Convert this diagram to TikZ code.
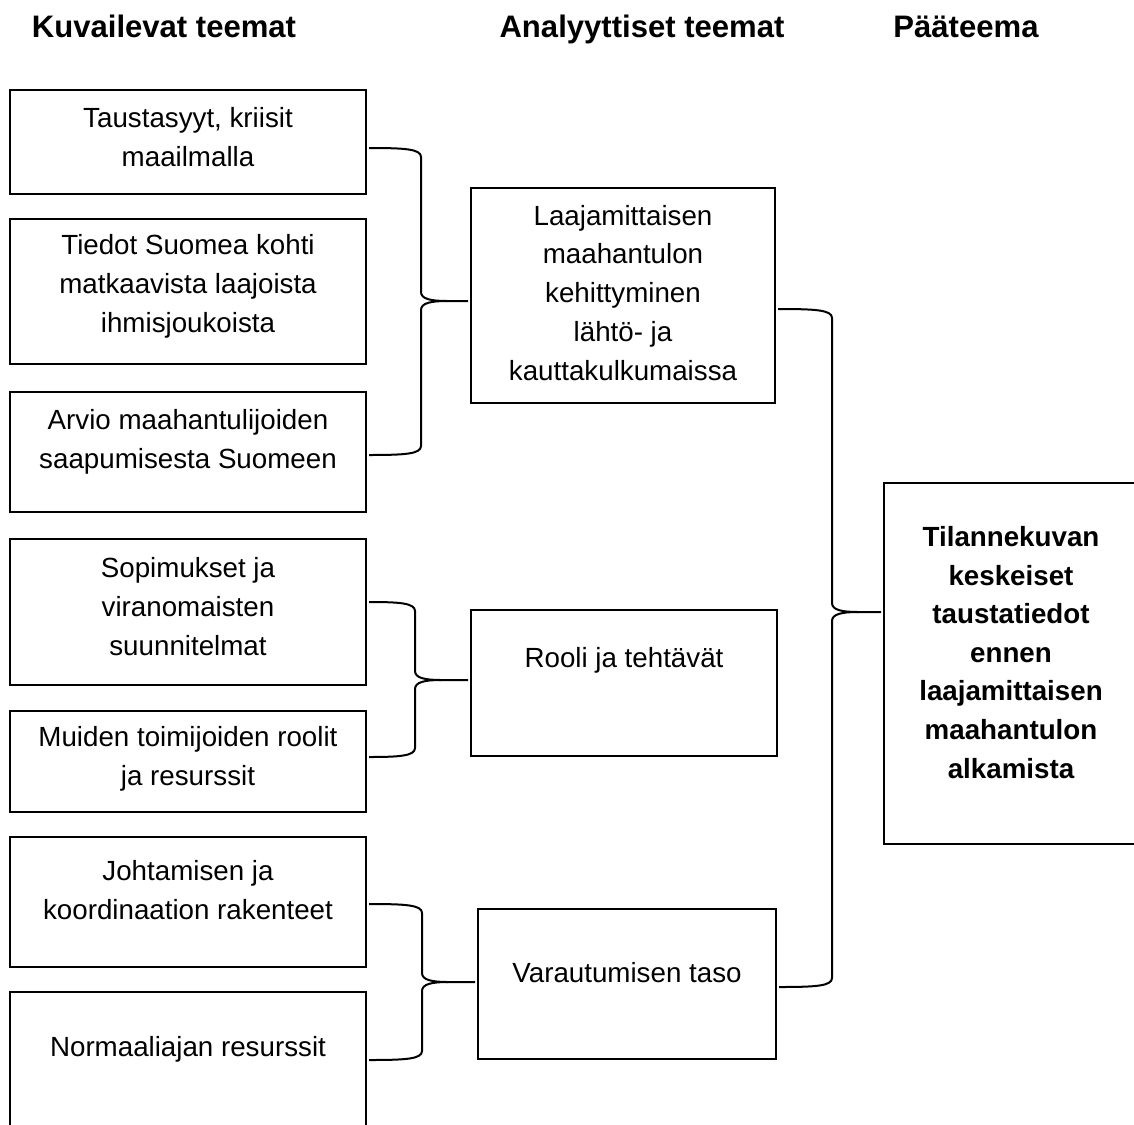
\documentclass[tikz,border=0pt]{standalone}
\usepackage{fontspec}
\setmainfont{Liberation Sans}
\usetikzlibrary{calc}
% #1 upper source, #2 its y, #3 lower source, #4 its y, #5 x of spine, #6 y of tip, #7 target
\newcommand\curlyjoin[7]{%
  \draw[brc] ($(#1.east |- 0,#2)+(3,0)$) .. controls (#5-16,#2) and (#5,#2+1) .. (#5,#2+9)
    -- (#5,#6-9) .. controls (#5,#6-2) and (#5+10,#6) .. (#5+26,#6)
    -- ($(#7.west |- 0,#6)+(-3,0)$);
  \draw[brc] (#5+26,#6) .. controls (#5+10,#6) and (#5,#6+2) .. (#5,#6+9)
    -- (#5,#4-9) .. controls (#5,#4-1) and (#5-16,#4) .. ($(#3.east |- 0,#4)+(3,0)$);
}
\begin{document}
\begin{tikzpicture}[x=0.75pt,y=-0.75pt,
  box/.style={draw=black, line width=1.5pt, rectangle, inner sep=0pt, outer sep=0pt},
  txt/.style={align=center, inner sep=0pt, font=\fontsize{20.8pt}{29.2pt}\selectfont},
  btxt/.style={align=center, inner sep=0pt, font=\bfseries\fontsize{20.8pt}{28.9pt}\selectfont},
  head/.style={inner sep=0pt, anchor=base, font=\bfseries\fontsize{23.3pt}{28pt}\selectfont},
  brc/.style={draw=black, line width=1.5pt, line join=round}]
\useasboundingbox (0,0) rectangle (1134,1124);
\clip (0,0) rectangle (1134,1124);

% headers
\node[head] (h1) at (164,38) {Kuvailevat teemat};
\node[head] (h2) at (642,38) {Analyyttiset teemat};
\node[head] (h3) at (966,38) {Pääteema};

% left column boxes
\node[box, minimum width=267pt, minimum height=78pt]     (b1) at (188,142)    {};
\node[box, minimum width=267pt, minimum height=108.75pt] (b2) at (188,291.5)  {};
\node[box, minimum width=267pt, minimum height=90pt]     (b3) at (188,452)    {};
\node[box, minimum width=267pt, minimum height=109.5pt]  (b4) at (188,612)    {};
\node[box, minimum width=267pt, minimum height=75.75pt]  (b5) at (188,761.5)  {};
\node[box, minimum width=267pt, minimum height=97.5pt]   (b6) at (188,902)    {};
\node[box, minimum width=267pt, minimum height=111pt]    (b7) at (188,1066)   {};

\node[txt] (t1) at (188,137.5) {Taustasyyt, kriisit\\maailmalla};
\node[txt] (t2) at (188,286)   {Tiedot Suomea kohti\\matkaavista laajoista\\ihmisjoukoista};
\node[txt] (t3) at (188,441.5) {Arvio maahantulijoiden\\saapumisesta Suomeen};
\node[txt] (t4) at (188,607)   {Sopimukset ja\\viranomaisten\\suunnitelmat};
\node[txt] (t5) at (188,759)   {Muiden toimijoiden roolit\\ja resurssit};
\node[txt] (t6) at (188,890)   {Johtamisen ja\\koordinaation rakenteet};
\node[txt] (t7) at (188,1049)  {Normaaliajan resurssit};

% middle column
\node[box, minimum width=228pt,   minimum height=161.25pt] (m1) at (623,295.5) {};
\node[box, minimum width=229.5pt, minimum height=109.5pt]  (m2) at (624,683)   {};
\node[box, minimum width=223.5pt, minimum height=112.5pt]  (m3) at (627,984)   {};

\node[txt] (u1) at (623,293) {Laajamittaisen\\maahantulon\\kehittyminen\\lähtö- ja\\kauttakulkumaissa};
\node[txt] (u2) at (624,660) {Rooli ja tehtävät};
\node[txt] (u3) at (627,973) {Varautumisen taso};

% right box
\node[box, minimum width=190.5pt, minimum height=270.75pt] (r) at (1011,663.5) {};
\node[btxt] (v) at (1011,652.5) {Tilannekuvan\\keskeiset\\taustatiedot\\ennen\\laajamittaisen\\maahantulon\\alkamista};

% braces
\curlyjoin{b1}{148}{b3}{455}{421}{301}{m1}
\curlyjoin{b4}{602}{b5}{757}{415}{680}{m2}
\curlyjoin{b6}{904}{b7}{1060}{422}{982}{m3}
\curlyjoin{m1}{309}{m3}{987}{832}{612}{r}
\end{tikzpicture}
\end{document}
